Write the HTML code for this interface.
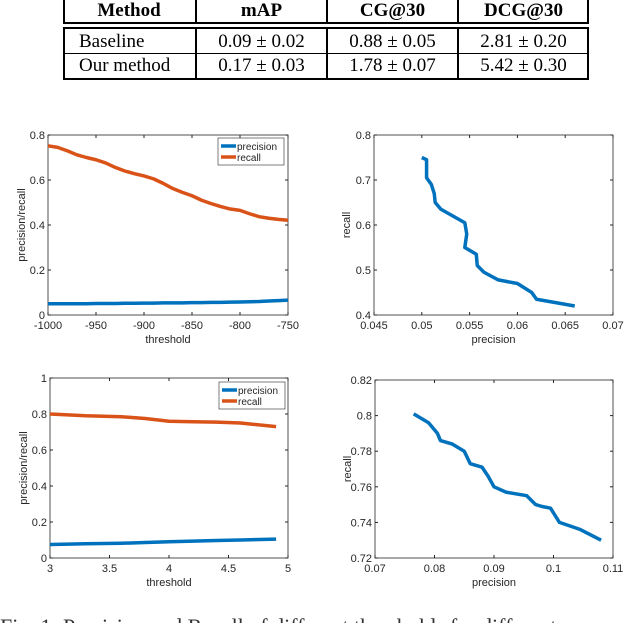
<!DOCTYPE html>
<html style="margin:0;width:640px;height:623px;overflow:hidden"><head><meta charset="utf-8">
<style>
html,body{margin:0;width:640px;height:623px;max-height:623px;overflow:hidden}
body{background:#fff;position:relative;font-family:"Liberation Serif",serif}
.cap{position:absolute;left:0;top:614px;font-size:22px;line-height:26px;white-space:nowrap;color:#333}
svg{position:absolute;left:0;top:0}
</style></head><body>
<div style="position:absolute;left:63px;top:0;width:526px;height:79px">
 <div style="position:absolute;left:0;top:0;width:522px;height:22px;border:2px solid #000;border-top:none"></div>
 <div style="position:absolute;left:0;top:27px;width:522px;height:49px;border:2px solid #000"></div>
 <div style="position:absolute;left:0;top:53px;width:526px;height:1px;background:#000"></div>
 <div style="position:absolute;left:132px;top:0;width:2px;height:78px;background:#000"></div>
 <div style="position:absolute;left:263px;top:0;width:2px;height:78px;background:#000"></div>
 <div style="position:absolute;left:394px;top:0;width:2px;height:78px;background:#000"></div>
 <div style="position:absolute;left:0;top:24px;width:526px;height:3px;background:#fff"></div>
</div>
<div style="position:absolute;left:63px;top:0;font-size:19px;line-height:22px">
 <span style="position:absolute;left:0;width:132px;text-align:center;font-weight:bold">Method</span>
 <span style="position:absolute;left:133px;width:131px;text-align:center;font-weight:bold">mAP</span>
 <span style="position:absolute;left:264px;width:131px;text-align:center;font-weight:bold">CG@30</span>
 <span style="position:absolute;left:395px;width:131px;text-align:center;font-weight:bold">DCG@30</span>
 <span style="position:absolute;left:16px;top:31px;white-space:nowrap">Baseline</span>
 <span style="position:absolute;left:133px;top:31px;width:131px;text-align:center">0.09 ± 0.02</span>
 <span style="position:absolute;left:264px;top:31px;width:131px;text-align:center">0.88 ± 0.05</span>
 <span style="position:absolute;left:395px;top:31px;width:131px;text-align:center">2.81 ± 0.20</span>
 <span style="position:absolute;left:16px;top:55px;white-space:nowrap">Our method</span>
 <span style="position:absolute;left:133px;top:55px;width:131px;text-align:center">0.17 ± 0.03</span>
 <span style="position:absolute;left:264px;top:55px;width:131px;text-align:center">1.78 ± 0.07</span>
 <span style="position:absolute;left:395px;top:55px;width:131px;text-align:center">5.42 ± 0.30</span>
</div>
<svg id="s" width="640" height="623"></svg>
<div class="cap">Fig. 1: Precision and Recall of different thresholds for different</div>
<script>
const c1x=[-1000,-990,-980,-970,-960,-950,-940,-930,-920,-910,-900,-890,-880,-870,-860,-850,-840,-830,-820,-810,-800,-790,-780,-770,-760,-750];
const c1rec=[0.752,0.745,0.73,0.712,0.70,0.69,0.676,0.656,0.64,0.628,0.618,0.605,0.585,0.562,0.545,0.53,0.51,0.495,0.482,0.471,0.465,0.45,0.437,0.43,0.425,0.421];
const c1prec=[0.05,0.05,0.05,0.05,0.05,0.051,0.051,0.051,0.052,0.052,0.053,0.053,0.054,0.054,0.054,0.055,0.055,0.056,0.056,0.057,0.058,0.059,0.06,0.062,0.064,0.066];
const c2prec=[0.050,0.0505,0.0505,0.051,0.0513,0.0514,0.052,0.0545,0.0547,0.0545,0.0557,0.0558,0.0565,0.058,0.060,0.0615,0.062,0.066];
const c2rec=[0.75,0.745,0.705,0.69,0.67,0.65,0.635,0.605,0.58,0.55,0.535,0.51,0.495,0.478,0.47,0.45,0.435,0.42];
const c3x=[3,3.3,3.6,3.8,4,4.2,4.4,4.6,4.9];
const c3rec=[0.80,0.79,0.785,0.775,0.76,0.757,0.755,0.75,0.73];
const c3prec=[0.075,0.079,0.082,0.086,0.09,0.094,0.097,0.1,0.105];
const c4prec=[0.0765,0.079,0.0805,0.081,0.083,0.085,0.086,0.088,0.089,0.090,0.092,0.0955,0.097,0.098,0.0995,0.101,0.1045,0.108];
const c4rec=[0.801,0.796,0.79,0.786,0.784,0.78,0.773,0.771,0.766,0.76,0.757,0.755,0.75,0.749,0.748,0.74,0.736,0.73];
const t1x=['-1000','-950','-900','-850','-800','-750'],t1y=['0','0.2','0.4','0.6','0.8'];
const t2x=['0.045','0.05','0.055','0.06','0.065','0.07'],t2y=['0.4','0.5','0.6','0.7','0.8'];
const t3x=['3','3.5','4','4.5','5'],t3y=['0','0.2','0.4','0.6','0.8','1'];
const t4x=['0.07','0.08','0.09','0.1','0.11'],t4y=['0.72','0.74','0.76','0.78','0.8','0.82'];
const S=document.getElementById('s'),NS='http://www.w3.org/2000/svg';
function mk(t,a,p){const e=document.createElementNS(NS,t);for(const k in a)e.setAttribute(k,a[k]);(p||S).appendChild(e);return e;}
function chart(name,L,R,T,B,xt,yt,xl,yl,series,legend){
 const g=mk('g',{});
 
 
 const x0=+xt[0],x1=+xt[xt.length-1],y0=+yt[0],y1=+yt[yt.length-1];
 const X=v=>L+(v-x0)/(x1-x0)*(R-L),Y=v=>B-(v-y0)/(y1-y0)*(B-T);
 mk('rect',{x:L,y:T,width:R-L,height:B-T,fill:'#fff',stroke:'#262626','stroke-width':0.8},g);
 xt.forEach(s=>{const x=X(+s);mk('line',{x1:x,x2:x,y1:B,y2:B-3,stroke:'#262626'},g);mk('line',{x1:x,x2:x,y1:T,y2:T+3,stroke:'#262626'},g);
  const t=mk('text',{x:x,y:B+14,'text-anchor':'middle','font-size':11,fill:'#262626','font-family':'Liberation Sans,sans-serif'},g);t.textContent=s;});
 yt.forEach(s=>{const y=Y(+s);mk('line',{x1:L,x2:L+3,y1:y,y2:y,stroke:'#262626'},g);mk('line',{x1:R,x2:R-3,y1:y,y2:y,stroke:'#262626'},g);
  const t=mk('text',{x:L-3,y:y+4,'text-anchor':'end','font-size':11,fill:'#262626','font-family':'Liberation Sans,sans-serif'},g);t.textContent=s;});
 const xa=mk('text',{x:(L+R)/2,y:B+28,'text-anchor':'middle','font-size':11,fill:'#262626','font-family':'Liberation Sans,sans-serif'},g);xa.textContent=xl;
 
 const ya=mk('text',{x:0,y:0,'text-anchor':'middle','font-size':11,fill:'#262626','font-family':'Liberation Sans,sans-serif',transform:`translate(${L-(yl=='recall'?24:23)},${(T+B)/2}) rotate(-90)`},g);ya.textContent=yl;
 
 series.forEach(s=>{const p=mk('polyline',{points:s.x.map((v,i)=>X(v)+','+Y(s.y[i])).join(' '),fill:'none',stroke:s.c,'stroke-width':3.5,'stroke-linejoin':'round'},g);
  });
 if(legend){const lx=legend[0],ly=legend[1];const lg=mk('g',{},g);
  
  mk('rect',{x:lx,y:ly,width:66,height:27,fill:'#fff',stroke:'#262626','stroke-width':0.6},lg);
  [['precision','#0072BD'],['recall','#D95319']].forEach((e,i)=>{mk('line',{x1:lx+3,x2:lx+18,y1:ly+8+i*11,y2:ly+8+i*11,stroke:e[1],'stroke-width':3.5},lg);
   const t=mk('text',{x:lx+19,y:ly+12+i*11,'font-size':10,fill:'#262626','font-family':'Liberation Sans,sans-serif'},lg);t.textContent=e[0];});}
}
chart('threshold-chart-1',48,288,135,315,t1x,t1y,'threshold','precision/recall',[{x:c1x,y:c1prec,c:'#0072BD',n:'precision-line-1'},{x:c1x,y:c1rec,c:'#D95319',n:'recall-line-1'}],[218,138]);
chart('pr-curve-1',374,613,135,315,t2x,t2y,'precision','recall',[{x:c2prec,y:c2rec,c:'#0072BD',n:'pr-line-1'}]);
chart('threshold-chart-2',50,288,378,558,t3x,t3y,'threshold','precision/recall',[{x:c3x,y:c3prec,c:'#0072BD',n:'precision-line-2'},{x:c3x,y:c3rec,c:'#D95319',n:'recall-line-2'}],[219,382]);
chart('pr-curve-2',375,613,380,558,t4x,t4y,'precision','recall',[{x:c4prec,y:c4rec,c:'#0072BD',n:'pr-line-2'}]);
</script>
</body></html>
